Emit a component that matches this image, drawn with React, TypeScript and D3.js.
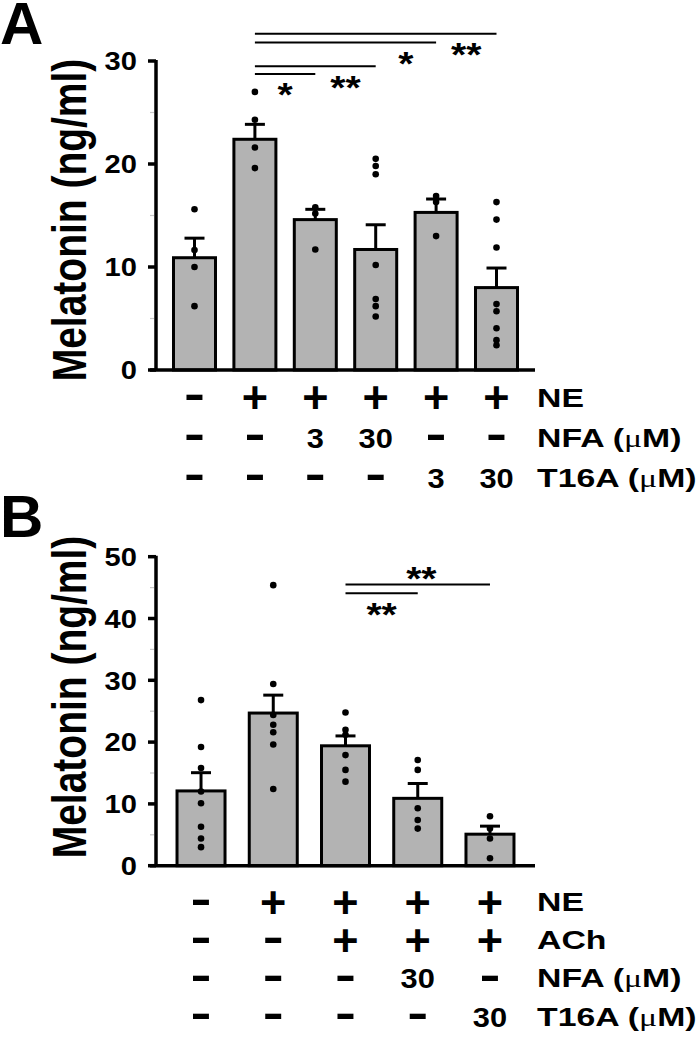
import React from "react";
import * as d3 from "d3";

// ---------- Data ----------
const groupsA = ["g1", "g2", "g3", "g4", "g5", "g6"];
const meanA = [10.9, 22.4, 14.6, 11.7, 15.3, 8.0];
const semA = [1.9, 1.45, 1.0, 2.4, 1.3, 1.9];
const pointsA = [
  [15.6, 11.65, 10.0, 6.2],
  [27.0, 24.3, 21.6, 19.6],
  [15.8, 15.2, 11.7],
  [20.5, 19.8, 19.0, 10.2, 6.9, 6.2, 5.2],
  [16.9, 16.3, 13.0],
  [16.3, 14.6, 11.9, 6.4, 5.7, 4.05, 2.9, 2.4],
];
const ticksA = [0, 10, 20, 30];
const minorTicksA = [5, 15, 25];
const rowNamesA = ["NE", "NFA (μM)", "T16A (μM)"];
const rowValsA = [
  ["-", "+", "+", "+", "+", "+"],
  ["-", "-", "3", "30", "-", "-"],
  ["-", "-", "-", "-", "3", "30"],
];
const sigFromA = [1, 1, 1, 1];
const sigToA = [5, 4, 3, 2];
const sigLevelA = [32.65, 31.8, 29.5, 28.75];
const sigLabelA = ["**", "*", "**", "*"];
const sigStarPosA = [4.5, 3.5, 2.5, 1.5];
const sigStarSideA = [1, 1, 1, 1];

const groupsB = ["h1", "h2", "h3", "h4", "h5"];
const meanB = [12.1, 24.7, 19.4, 10.9, 5.1];
const semB = [2.95, 2.9, 1.6, 2.4, 1.3];
const pointsB = [
  [26.8, 19.2, 15.8, 12.0, 10.1, 6.3, 4.4, 3.0],
  [45.4, 29.4, 24.4, 22.8, 21.6, 19.6, 12.4],
  [24.8, 22.0, 21.2, 17.9, 15.5, 13.6],
  [17.1, 15.5, 9.3, 7.4, 6.0],
  [8.0, 6.0, 4.4, 1.2],
];
const ticksB = [0, 10, 20, 30, 40, 50];
const minorTicksB = [5, 15, 25, 35, 45];
const rowNamesB = ["NE", "ACh", "NFA (μM)", "T16A (μM)"];
const rowValsB = [
  ["-", "+", "+", "+", "+"],
  ["-", "-", "+", "+", "+"],
  ["-", "-", "-", "30", "-"],
  ["-", "-", "-", "-", "30"],
];
const sigFromB = [2, 2];
const sigToB = [4, 3];
const sigLevelB = [45.5, 44.1];
const sigLabelB = ["**", "**"];
const sigStarPosB = [3.05, 2.5];
const sigStarSideB = [-1, 1];

const yLabel = "Melatonin (ng/ml)";

const FONT = "'Liberation Sans', Arial, Helvetica, sans-serif";
const BAR_FILL = "#b3b3b3";

type PanelProps = {
  letter: string;
  letterY: number;
  groups: string[];
  mean: number[];
  sem: number[];
  points: number[][];
  ticks: number[];
  minor: number[];
  yMax: number;
  yTop: number;
  yBottom: number;
  xRange: [number, number];
  barW: number;
  rowNames: string[];
  rowVals: string[][];
  rowYs: number[];
  labelCY: number;
  sigFrom: number[];
  sigTo: number[];
  sigLevel: number[];
  sigLabel: string[];
  sigStarPos: number[];
  sigStarSide: number[];
};

function RowMark({ x, y, v }: { x: number; y: number; v: string }) {
  if (v === "+") {
    return (
      <text x={x} y={y + 15.5} textAnchor="middle" fontFamily={FONT} fontWeight="bold" fontSize={45}>
        +
      </text>
    );
  }
  if (v === "-") {
    return (
      <text
        transform={`translate(${x},${y + 11.5}) scale(1.4,1)`}
        textAnchor="middle"
        fontFamily={FONT}
        fontWeight="bold"
        fontSize={45}
      >
        -
      </text>
    );
  }
  return (
    <text
      transform={`translate(${x},${y + 10}) scale(1.1,1)`}
      textAnchor="middle"
      fontFamily={FONT}
      fontWeight="bold"
      fontSize={28}
    >
      {v}
    </text>
  );
}

function RowName({ x, y, name }: { x: number; y: number; name: string }) {
  const m = name.match(/^(.*\()μ(.*)$/);
  return (
    <text transform={`translate(${x},${y + 9.3}) scale(1.3,1)`} fontFamily={FONT} fontWeight="bold" fontSize={26}>
      {m ? (
        <>
          {m[1]}
          <tspan fontFamily="'Liberation Serif', 'DejaVu Serif', serif" fontWeight="normal">
            μ
          </tspan>
          {m[2]}
        </>
      ) : (
        name
      )}
    </text>
  );
}

function Panel(p: PanelProps) {
  const y = d3.scaleLinear().domain([0, p.yMax]).range([p.yBottom, p.yTop]);
  const x = d3.scalePoint<string>().domain(p.groups).range(p.xRange).padding(0.5);
  const step = x.step();
  const axisX = 156;
  const axisEnd = 535;
  const cx = (i: number) => (x(p.groups[0]) as number) + i * step;
  return (
    <g>
      <text x={0} y={p.letterY} fontFamily={FONT} fontWeight="bold" fontSize={60}>
        {p.letter}
      </text>
      <text
        transform={`translate(86,${p.labelCY}) scale(1.25,1) rotate(-90)`}
        textAnchor="middle"
        fontFamily={FONT}
        fontWeight="bold"
        fontSize={39}
      >
        {yLabel}
      </text>
      {p.groups.map((g, i) => {
        const c = x(g) as number;
        return (
          <g key={g}>
            <rect
              x={c - p.barW / 2}
              y={y(p.mean[i])}
              width={p.barW}
              height={y(0) - y(p.mean[i])}
              fill={BAR_FILL}
              stroke="#000"
              strokeWidth={3}
            />
            <line x1={c} x2={c} y1={y(p.mean[i])} y2={y(p.mean[i] + p.sem[i])} stroke="#000" strokeWidth={3} />
            <line
              x1={c - 10}
              x2={c + 10}
              y1={y(p.mean[i] + p.sem[i])}
              y2={y(p.mean[i] + p.sem[i])}
              stroke="#000"
              strokeWidth={3}
            />
            {p.points[i].map((v, j) => (
              <circle key={j} cx={c} cy={y(v)} r={3.3} fill="#000" />
            ))}
          </g>
        );
      })}
      <line x1={axisX} x2={axisX} y1={y(p.yMax) - 1} y2={y(0)} stroke="#000" strokeWidth={3.5} />
      <line x1={150} x2={axisEnd} y1={y(0)} y2={y(0)} stroke="#000" strokeWidth={3.5} />
      {p.ticks.map((t) => (
        <g key={t}>
          <line x1={axisX - 8} x2={axisX} y1={y(t)} y2={y(t)} stroke="#000" strokeWidth={3.5} />
          <text
            transform={`translate(137,${y(t) + 9.3}) scale(1.12,1)`}
            textAnchor="end"
            fontFamily={FONT}
            fontWeight="bold"
            fontSize={26}
          >
            {t}
          </text>
        </g>
      ))}
      {p.minor.map((t) => (
        <line key={t} x1={axisX - 6} x2={axisX - 2} y1={y(t)} y2={y(t)} stroke="#c8c8c8" strokeWidth={1.2} />
      ))}
      {p.sigFrom.map((f, k) => {
        const ly = y(p.sigLevel[k]);
        const sx = cx(p.sigStarPos[k]);
        const starCenter = ly + p.sigStarSide[k] * 13.5;
        return (
          <g key={k}>
            <line x1={cx(f)} x2={cx(p.sigTo[k])} y1={ly} y2={ly} stroke="#000" strokeWidth={2} />
            <text
              transform={`translate(${sx},${starCenter + 19}) scale(1.15,1)`}
              textAnchor="middle"
              fontFamily={FONT}
              fontWeight="bold"
              fontSize={34}
            >
              {p.sigLabel[k]}
            </text>
          </g>
        );
      })}
      {p.rowVals.map((row, r) => (
        <g key={r}>
          {row.map((v, i) => (
            <RowMark key={i} x={x(p.groups[i]) as number} y={p.rowYs[r]} v={v} />
          ))}
          <RowName x={537} y={p.rowYs[r]} name={p.rowNames[r]} />
        </g>
      ))}
    </g>
  );
}

export default function App() {
  return (
    <svg width={700} height={1039} style={{ position: "absolute", left: 0, top: 0, background: "#fff" }}>
      <rect width={700} height={1039} fill="#fff" />
      <Panel
        letter="A"
        letterY={44}
        groups={groupsA}
        mean={meanA}
        sem={semA}
        points={pointsA}
        ticks={ticksA}
        minor={minorTicksA}
        yMax={30}
        yTop={61}
        yBottom={370}
        xRange={[164.3, 526.7]}
        barW={42}
        rowNames={rowNamesA}
        rowVals={rowValsA}
        rowYs={[397.5, 437.5, 477.5]}
        labelCY={220}
        sigFrom={sigFromA}
        sigTo={sigToA}
        sigLevel={sigLevelA}
        sigLabel={sigLabelA}
        sigStarPos={sigStarPosA}
        sigStarSide={sigStarSideA}
      />
      <Panel
        letter="B"
        letterY={537}
        groups={groupsB}
        mean={meanB}
        sem={semB}
        points={pointsB}
        ticks={ticksB}
        minor={minorTicksB}
        yMax={50}
        yTop={556.7}
        yBottom={865.7}
        xRange={[164.9, 526.1]}
        barW={48}
        rowNames={rowNamesB}
        rowVals={rowValsB}
        rowYs={[902, 940, 978, 1016.5]}
        labelCY={697}
        sigFrom={sigFromB}
        sigTo={sigToB}
        sigLevel={sigLevelB}
        sigLabel={sigLabelB}
        sigStarPos={sigStarPosB}
        sigStarSide={sigStarSideB}
      />
    </svg>
  );
}
